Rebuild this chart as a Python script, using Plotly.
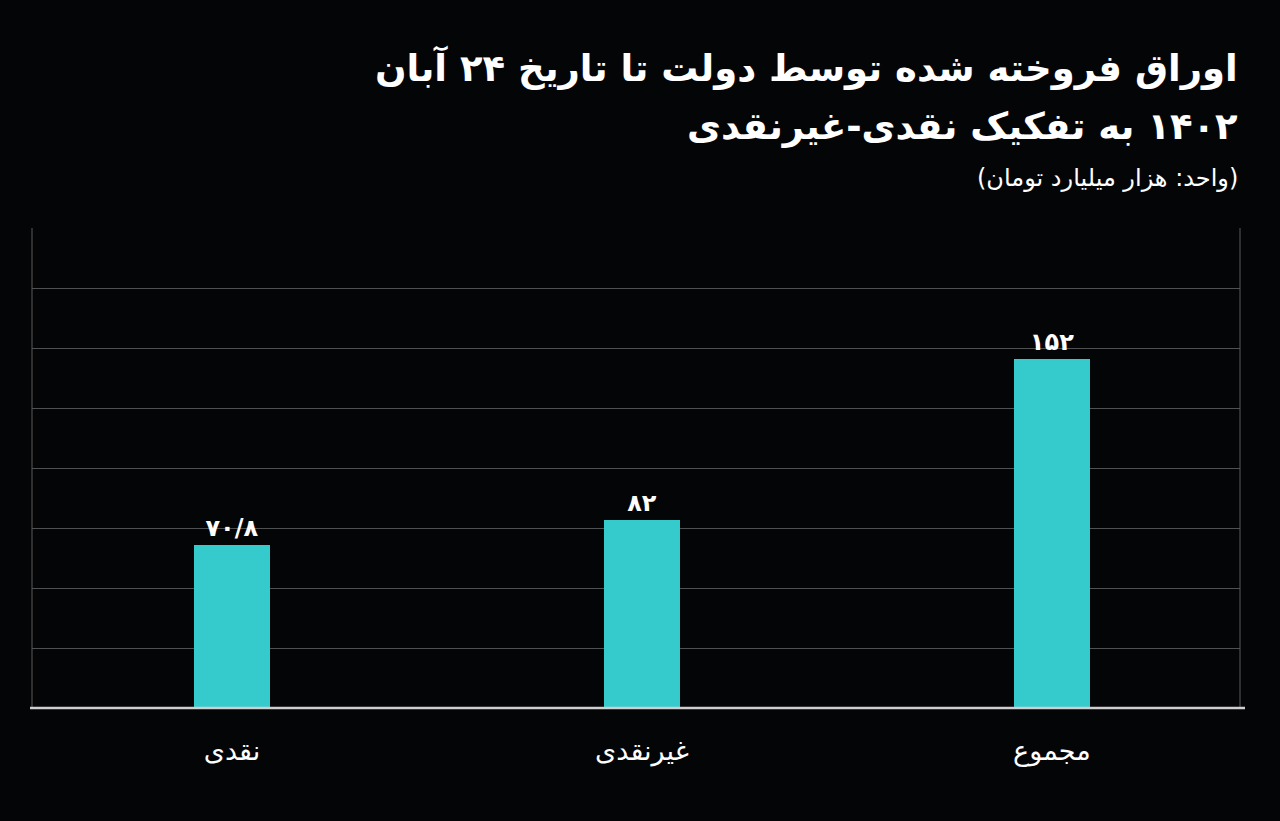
import plotly.graph_objects as go

categories = ["نقدی", "غیرنقدی", "مجموع"]
values = [70.8, 82, 152]
value_labels = ["۷۰/۸", "۸۲", "۱۵۲"]

title_line1 = "اوراق فروخته شده توسط دولت تا تاریخ ۲۴ آبان"
title_line2 = "۱۴۰۲ به تفکیک نقدی-غیرنقدی"
subtitle = "(واحد: هزار میلیارد تومان)"

RLE, PDF = "\u202B", "\u202C"
def rtl(s):
    return RLE + s + PDF

BG = "#040507"
BAR = "#35CBCD"
FONT = "DejaVu Sans, Noto Sans, sans-serif"

x_idx = list(range(len(categories)))

fig = go.Figure()
fig.add_trace(go.Bar(
    x=x_idx, y=values,
    marker=dict(color=BAR, line=dict(width=0)),
    width=0.185,
    text=["<b>" + rtl(t) + "</b>" for t in value_labels],
    textposition="outside",
    textfont=dict(color="white", size=24, family=FONT),
    cliponaxis=False,
    hoverinfo="skip",
))

W, H = 1280, 821
ml, mr, mt, mb = 32, 40, 228, 113
fig.update_layout(
    width=W, height=H,
    margin=dict(l=ml, r=mr, t=mt, b=mb, pad=0),
    paper_bgcolor=BG, plot_bgcolor=BG,
    showlegend=False,
    bargap=0,
    xaxis=dict(
        range=[-0.488, 2.459],
        tickvals=x_idx,
        ticktext=[rtl(c) for c in categories],
        tickfont=dict(color="white", size=27, family=FONT),
        showgrid=False, zeroline=False,
        showline=False, ticks="", ticklabelstandoff=24,
        fixedrange=True,
    ),
    yaxis=dict(
        range=[0, 209],
        dtick=209 / 8,
        showticklabels=False,
        showgrid=True, gridcolor="#505050", gridwidth=1,
        zeroline=False,
        showline=False, ticks="",
        fixedrange=True,
    ),
    shapes=[
        dict(type="line", xref="paper", yref="paper", x0=0, x1=0, y0=0, y1=1,
             line=dict(color="#5a5a5a", width=1)),
        dict(type="line", xref="paper", yref="paper", x0=1, x1=1, y0=0, y1=1,
             line=dict(color="#5a5a5a", width=1)),
        dict(type="line", xref="paper", yref="paper", x0=-2 / 1208, x1=1 + 5 / 1208, y0=0, y1=0,
             line=dict(color="#cfcfcf", width=2.5), layer="above"),
    ],
)

ph = H - mt - mb  # 480
def py(ypix):
    return (H - mb - ypix) / ph

fig.add_annotation(xref="paper", yref="paper", x=1, y=py(67), xanchor="right", yanchor="middle",
                   text="<b>" + rtl(title_line1) + "</b>", showarrow=False,
                   font=dict(color="white", size=37, family=FONT))
fig.add_annotation(xref="paper", yref="paper", x=1, y=py(126), xanchor="right", yanchor="middle",
                   text="<b>" + rtl(title_line2) + "</b>", showarrow=False,
                   font=dict(color="white", size=37, family=FONT))
fig.add_annotation(xref="paper", yref="paper", x=1, y=py(178), xanchor="right", yanchor="middle",
                   text=rtl(subtitle), showarrow=False,
                   font=dict(color="white", size=24, family=FONT))

fig.write_html("out.html")
